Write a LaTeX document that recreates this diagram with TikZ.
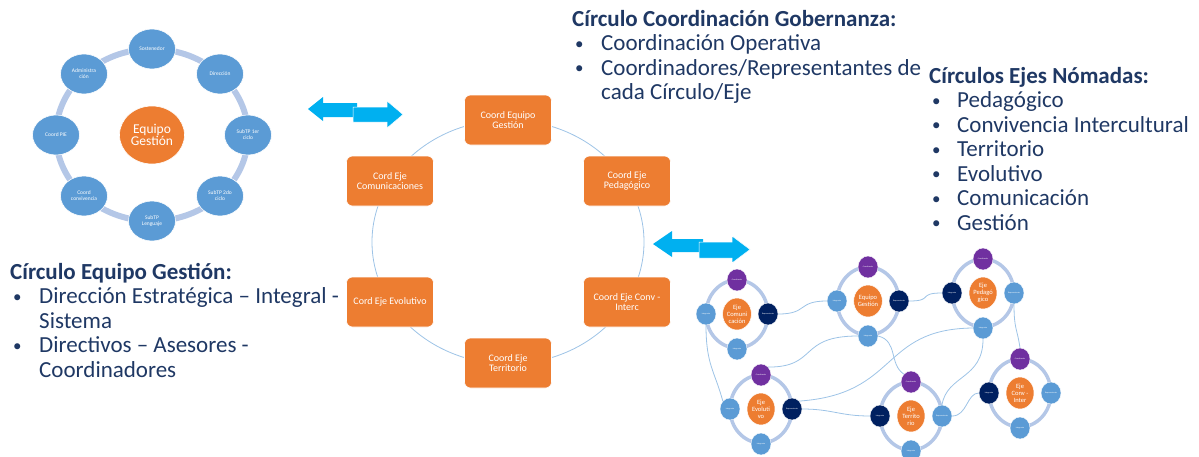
\documentclass[tikz,border=0pt]{standalone}
\usepackage{fontspec}
\setmainfont{Carlito}
\usepackage{xcolor}
\usepackage{tikz}
\usetikzlibrary{arrows.meta, positioning, calc, shapes.geometric}

\definecolor{naranja}{HTML}{ED7D31}
\definecolor{azulsat}{HTML}{5B9BD5}
\definecolor{anillo}{HTML}{B4C7E7}
\definecolor{morado}{HTML}{7030A0}
\definecolor{marino}{HTML}{002060}
\definecolor{celeste}{HTML}{00B0F0}
\definecolor{linea}{HTML}{9DC3E6}
\definecolor{texto}{HTML}{1F3864}

\newcommand{\vineta}{\hspace*{3pt}\raisebox{1.5pt}{\fontsize{17}{17}\selectfont\textbullet}}

\begin{document}
\begin{tikzpicture}[x=1pt, y=-1pt,
	sat/.style={ellipse, fill=azulsat, draw=white, line width=0.6, minimum width=47, minimum height=40, inner sep=0, text=white, align=center, font=\fontsize{5.5}{6}\selectfont},
	centro/.style={ellipse, fill=naranja, draw=white, line width=0.6, minimum width=65, minimum height=58, inner sep=0, text=white, align=center, font=\fontsize{13.5}{12.5}\selectfont},
	caja/.style={rectangle, rounded corners=6, fill=naranja, draw=white, line width=0.6, minimum width=87, minimum height=50, inner sep=1, text=white, align=center, font=\fontsize{10}{9.5}\selectfont},
	nucleo/.style={ellipse, fill=naranja, draw=white, line width=0.5, minimum width=28, minimum height=32, inner sep=0, text=white, align=center, font=\fontsize{6.5}{7}\selectfont},
	mini/.style={ellipse, draw=white, line width=0.4, minimum width=20, minimum height=22, inner sep=0, text=white, align=center, font=\fontsize{2}{2.4}\selectfont},
	coord/.style={mini, fill=morado},
	repr/.style={mini, fill=marino},
	integ/.style={mini, fill=azulsat},
	conector/.style={draw=linea, line width=0.8},
	bloque/.style={inner sep=0, text=texto, font=\fontsize{23}{24.5}\selectfont}]
		
		\useasboundingbox (0,0) rectangle (1199,456);
		
		% Circulo Equipo Gestion (left)
		\draw[anillo, line width=6] (152,135) ellipse [x radius=96, y radius=86];
		\node[centro] (eg) at (152,135) {Equipo\\Gestión};
		\node[sat] (sost) at (152,49) {Sostenedor};
		\node[sat] (dir) at (220,74) {Dirección};
		\node[sat] (sub1) at (248,135) {SubTP 1er\\ciclo};
		\node[sat] (sub2) at (220,196) {SubTP 2do\\ciclo};
		\node[sat] (subl) at (152,221) {SubTP\\Lenguaje};
		\node[sat] (conv) at (84,196) {Coord\\convivencia};
		\node[sat] (pie) at (56,135) {Coord PIE};
		\node[sat] (adm) at (84,74) {Administra\\ción};
		
		% Arrows
		\fill[celeste] (308,109) -- (323,97) -- (323,103) -- (357,103) -- (357,117) -- (323,117) -- (323,121) -- cycle;
		\filldraw[fill=celeste, draw=white, line width=0.5] (353,107) -- (387,107) -- (387,101) -- (403,114.5) -- (387,128) -- (387,122) -- (353,122) -- cycle;
		\fill[celeste] (653,244) -- (672,231) -- (672,239) -- (703,239) -- (703,252) -- (672,252) -- (672,257) -- cycle;
		\filldraw[fill=celeste, draw=white, line width=0.5] (699,242) -- (732,242) -- (732,236) -- (750,249.5) -- (732,263) -- (732,258) -- (699,258) -- cycle;
		
		% Circulo Coordinacion Gobernanza (middle)
		\draw[linea, line width=0.8] (508,242) ellipse [x radius=136, y radius=122];
		\node[caja] (cge) at (508,120) {Coord Equipo\\Gestión};
		\node[caja] (cped) at (627,181) {Coord Eje\\Pedagógico};
		\node[caja] (ccom) at (390,181) {Cord Eje\\Comunicaciones};
		\node[caja] (cevo) at (390,302) {Cord Eje Evolutivo};
		\node[caja] (cconv) at (627,302) {Coord Eje Conv -\\Interc};
		\node[caja] (cter) at (508,363) {Coord Eje\\Territorio};
		
		% Circulos Ejes Nomadas (bottom right)
		\foreach \nom/\px/\py/\izq/\der in {
			com/737/314/integ/repr,
			ges/868/301/integ/repr,
			ped/983/293/repr/integ,
			evo/761/409/integ/repr,
			ter/911/416/repr/integ,
			con/1020/393/repr/integ%
		}{
			\draw[anillo, line width=3.5] (\px,\py) ellipse [x radius=31, y radius=34];
			\node[coord] (\nom-t) at (\px,\py-34) {Coordinador};
			\node[\izq] (\nom-l) at (\px-31,\py) {Integrante};
			\node[\der] (\nom-r) at (\px+31,\py) {Representante};
			\node[integ] (\nom-b) at (\px,\py+35) {Integrante};
		}
		\node[nucleo] (com) at (737,314) {Eje\\Comuni\\cación};
		\node[nucleo] (ges) at (868,301) {Equipo\\Gestión};
		\node[nucleo] (ped) at (983,293) {Eje\\Pedagó\\gico};
		\node[nucleo] (evo) at (761,409) {Eje\\Evoluti\\vo};
		\node[nucleo] (ter) at (911,416) {Eje\\Territo\\rio};
		\node[nucleo] (con) at (1020,393) {Eje\\Conv -\\Inter};
		
		% Links between circles
		\draw[conector] (com-r.east) .. controls +(30,0) and +(-30,0) .. (ges-l.west);
		\draw[conector] (ges-r.east) .. controls +(25,0) and +(-25,0) .. (ped-l.west);
		\draw[conector] (com-l.south) .. controls +(0,40) and +(-8,-30) .. (evo-l.north west);
		\draw[conector] (ges-b.west) .. controls +(-60,0) and +(50,0) .. (evo-t.north east);
		\draw[conector] (ped-b.west) .. controls +(-93,1) and +(100,-7) .. (evo-r.north east);
		\draw[conector] (ges-b.east) .. controls +(20,5) and +(-15,-10) .. (ter-t.north west);
		\draw[conector] (evo-r.east) .. controls +(30,0) and +(-30,0) .. (ter-l.west);
		\draw[conector] (ped-b.south) .. controls +(0,40) and +(5,-30) .. (ter-r.north);
		\draw[conector] (ped-r.south) .. controls +(0,25) and +(-3,-20) .. (con-t.north);
		\draw[conector] (ter-r.east) .. controls +(15,0) and +(-12,0) .. (con-l.west);
		
		% Text blocks
		\node[bloque, anchor=base west] (gob) at (572,26) {\begin{tabular}[t]{@{}p{29pt}@{}l@{}}
			\multicolumn{2}{@{}l@{}}{\bfseries Círculo Coordinación Gobernanza:}\\
			\vineta & Coordinación Operativa\\
			\vineta & Coordinadores/Representantes de\\
			& cada Círculo/Eje
		\end{tabular}};
		\node[bloque, anchor=base west] (nom) at (929,83) {\begin{tabular}[t]{@{}p{28pt}@{}l@{}}
			\multicolumn{2}{@{}l@{}}{\bfseries Círculos Ejes Nómadas:}\\
			\vineta & Pedagógico\\
			\vineta & Convivencia Intercultural\\
			\vineta & Territorio\\
			\vineta & Evolutivo\\
			\vineta & Comunicación\\
			\vineta & Gestión
		\end{tabular}};
		\node[bloque, anchor=base west] (equ) at (10,279) {\begin{tabular}[t]{@{}p{29pt}@{}l@{}}
			\multicolumn{2}{@{}l@{}}{\bfseries Círculo Equipo Gestión:}\\
			\vineta & Dirección Estratégica – Integral -\\
			& Sistema\\
			\vineta & Directivos – Asesores -\\
			& Coordinadores
		\end{tabular}};
		
	\end{tikzpicture}
\end{document}
